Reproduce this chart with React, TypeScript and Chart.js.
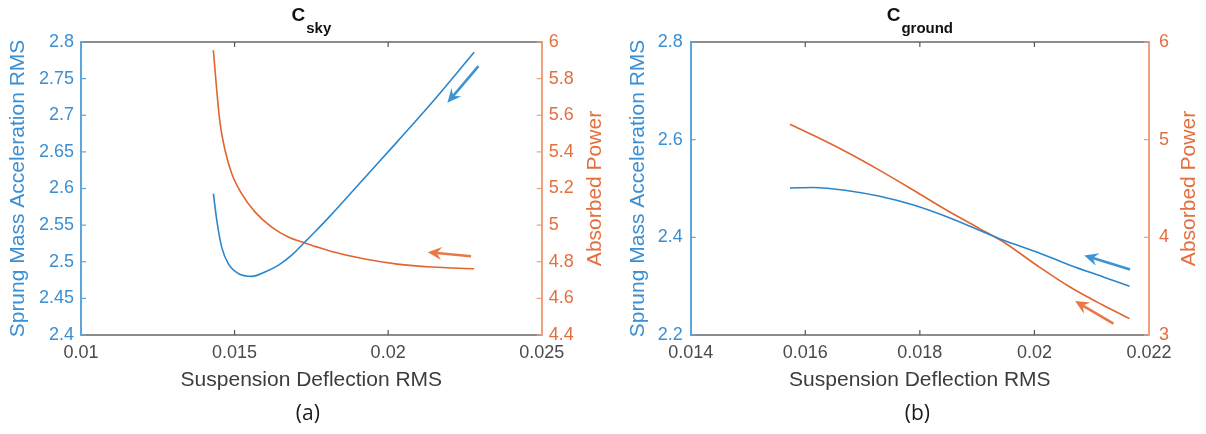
import React, { useEffect, useRef } from "react";
import { Chart, registerables } from "chart.js";

Chart.register(...registerables);

// ---------- Data: panel (a) C_sky ----------
const xAccelA = [0.01431, 0.01442, 0.01458, 0.0148, 0.01512, 0.01556, 0.01599, 0.01642, 0.01686, 0.01729, 0.01762, 0.0181, 0.0192, 0.0203, 0.0214, 0.0228];
const accelA = [2.593, 2.557, 2.52, 2.497, 2.484, 2.48, 2.486, 2.495, 2.509, 2.527, 2.541, 2.562, 2.613, 2.664, 2.716, 2.786];
const xPowerA = [0.01431, 0.01442, 0.01453, 0.01469, 0.01491, 0.01523, 0.01567, 0.01621, 0.01675, 0.01729, 0.01762, 0.0181, 0.0192, 0.0203, 0.0214, 0.0228];
const powerA = [5.955, 5.736, 5.554, 5.409, 5.281, 5.172, 5.071, 4.989, 4.935, 4.902, 4.884, 4.859, 4.816, 4.787, 4.771, 4.762];

// ---------- Data: panel (b) C_ground ----------
const xAccelB = [0.015733, 0.01614, 0.01672, 0.0173, 0.01789, 0.01847, 0.01905, 0.01946, 0.02004, 0.02062, 0.0212, 0.02166];
const accelB = [2.501, 2.502, 2.496, 2.484, 2.466, 2.442, 2.414, 2.394, 2.37, 2.343, 2.319, 2.3];
const xPowerB = [0.015733, 0.01614, 0.01672, 0.0173, 0.01789, 0.01847, 0.01905, 0.01946, 0.02004, 0.02062, 0.0212, 0.02166];
const powerB = [5.157, 5.045, 4.874, 4.686, 4.482, 4.277, 4.087, 3.952, 3.714, 3.491, 3.304, 3.168];

// ---------- Ticks ----------
const xTicksA = [0.01, 0.015, 0.02, 0.025];
const yLeftTicksA = [2.4, 2.45, 2.5, 2.55, 2.6, 2.65, 2.7, 2.75, 2.8];
const yRightTicksA = [4.4, 4.6, 4.8, 5, 5.2, 5.4, 5.6, 5.8, 6];
const xTicksB = [0.014, 0.016, 0.018, 0.02, 0.022];
const yLeftTicksB = [2.2, 2.4, 2.6, 2.8];
const yRightTicksB = [3, 4, 5, 6];

// ---------- Annotation arrows (data coords: x0, y0 -> x1, y1 tip) ----------
const arrowAccelA = [0.02294, 2.767, 0.02193, 2.717];
const arrowPowerA = [0.0227, 4.83, 0.02129, 4.852];
const arrowAccelB = [0.02167, 2.334, 0.02087, 2.363];
const arrowPowerB = [0.02138, 3.117, 0.02071, 3.348];

const BLUE = "#2a86cc";
const BLUE_TEXT = "#3b8fd2";
const BLUE_AXIS = "#5aa6dd";
const BLUE_ARROW = "#3d94d2";
const ORANGE = "#e0652f";
const ORANGE_TEXT = "#e46f3e";
const ORANGE_AXIS = "#efa07c";
const ORANGE_ARROW = "#e8784a";
const GRAY_AXIS = "#8c8c8c";
const GRAY_TEXT = "#4a4a4a";
const FONT = "'Liberation Sans', Arial, sans-serif";

type Spec = {
  left: number;
  width: number;
  xAccel: number[];
  accel: number[];
  xPower: number[];
  power: number[];
  xMin: number; xMax: number; xTicks: number[];
  yLMin: number; yLMax: number; yLTicks: number[];
  yRMin: number; yRMax: number; yRTicks: number[];
  leftW: number; rightW: number;
  leftTitlePad: number; leftTickPad: number; rightTickPad: number;
  rightTitleX: number;
  title: string; sub: string; caption: string; captionDx: number;
  arrows: { data: number[]; axis: "yL" | "yR"; color: string }[];
};

function drawArrow(ctx: CanvasRenderingContext2D, x0: number, y0: number, x1: number, y1: number, color: string) {
  const ang = Math.atan2(y1 - y0, x1 - x0);
  const c = Math.cos(ang), s = Math.sin(ang);
  const L = 14, W = 6.5, back = 9;
  ctx.strokeStyle = color;
  ctx.lineWidth = 2.6;
  ctx.lineCap = "butt";
  ctx.beginPath();
  ctx.moveTo(x0, y0);
  ctx.lineTo(x1 - back * c, y1 - back * s);
  ctx.stroke();
  ctx.fillStyle = color;
  ctx.beginPath();
  ctx.moveTo(x1, y1);
  ctx.lineTo(x1 - L * c + W * s, y1 - L * s - W * c);
  ctx.lineTo(x1 - back * c, y1 - back * s);
  ctx.lineTo(x1 - L * c - W * s, y1 - L * s + W * c);
  ctx.closePath();
  ctx.fill();
}

function makeDecor(spec: Spec) {
  return {
    id: "decor",
    afterDraw(chart: any) {
      const { ctx, chartArea } = chart;
      const { left, right, top, bottom } = chartArea;
      const x = chart.scales.x, yL = chart.scales.yL, yR = chart.scales.yR;
      ctx.save();
      // top box line
      ctx.strokeStyle = GRAY_AXIS;
      ctx.lineWidth = 2;
      ctx.beginPath();
      ctx.moveTo(left, top);
      ctx.lineTo(right, top);
      ctx.stroke();
      // inward tick marks
      ctx.lineWidth = 1.2;
      ctx.strokeStyle = "#555";
      spec.xTicks.forEach((v) => {
        const px = x.getPixelForValue(v);
        if (px <= left + 1 || px >= right - 1) return;
        ctx.beginPath();
        ctx.moveTo(px, bottom);
        ctx.lineTo(px, bottom - 5);
        ctx.moveTo(px, top);
        ctx.lineTo(px, top + 5);
        ctx.stroke();
      });
      ctx.strokeStyle = BLUE_AXIS;
      spec.yLTicks.forEach((v) => {
        const py = yL.getPixelForValue(v);
        ctx.beginPath();
        ctx.moveTo(left, py);
        ctx.lineTo(left + 5, py);
        ctx.stroke();
      });
      ctx.strokeStyle = ORANGE_AXIS;
      spec.yRTicks.forEach((v) => {
        const py = yR.getPixelForValue(v);
        ctx.beginPath();
        ctx.moveTo(right, py);
        ctx.lineTo(right - 5, py);
        ctx.stroke();
      });
      // right axis title (reads bottom-to-top)
      ctx.save();
      ctx.translate(spec.rightTitleX, (top + bottom) / 2);
      ctx.rotate(-Math.PI / 2);
      ctx.fillStyle = ORANGE_TEXT;
      ctx.font = `21px ${FONT}`;
      ctx.textAlign = "center";
      ctx.textBaseline = "middle";
      ctx.fillText("Absorbed Power", 0, 0);
      ctx.restore();
      // title with subscript
      const cx = (left + right) / 2;
      ctx.fillStyle = "#111";
      ctx.textAlign = "left";
      ctx.textBaseline = "alphabetic";
      ctx.font = `bold 19px ${FONT}`;
      const wMain = ctx.measureText(spec.title).width;
      ctx.font = `bold 15px ${FONT}`;
      const wSub = ctx.measureText(spec.sub).width;
      const start = cx - (wMain + 1 + wSub) / 2;
      ctx.font = `bold 19px ${FONT}`;
      ctx.fillText(spec.title, start, 21);
      ctx.font = `bold 15px ${FONT}`;
      ctx.fillText(spec.sub, start + wMain + 1, 33);
      // caption
      ctx.font = `21px 'Open Sans', sans-serif`;
      ctx.fillStyle = "#1a1a1a";
      ctx.textAlign = "center";
      ctx.textBaseline = "middle";
      ctx.fillText(spec.caption, cx + spec.captionDx, 414);
      // arrows
      spec.arrows.forEach((a) => {
        const ys = a.axis === "yL" ? yL : yR;
        drawArrow(
          ctx,
          x.getPixelForValue(a.data[0]),
          ys.getPixelForValue(a.data[1]),
          x.getPixelForValue(a.data[2]),
          ys.getPixelForValue(a.data[3]),
          a.color
        );
      });
      ctx.restore();
    },
  };
}

function makeConfig(spec: Spec): any {
  const tickFont = { family: FONT, size: 18 };
  return {
    type: "line",
    data: {
      datasets: [
        {
          label: "Sprung Mass Acceleration RMS",
          data: spec.xAccel.map((x, i) => ({ x, y: spec.accel[i] })),
          yAxisID: "yL",
          borderColor: BLUE,
          borderWidth: 1.6,
          pointRadius: 0,
          cubicInterpolationMode: "monotone",
          fill: false,
        },
        {
          label: "Absorbed Power",
          data: spec.xPower.map((x, i) => ({ x, y: spec.power[i] })),
          yAxisID: "yR",
          borderColor: ORANGE,
          borderWidth: 1.6,
          pointRadius: 0,
          cubicInterpolationMode: "monotone",
          fill: false,
        },
      ],
    },
    options: {
      animation: false,
      responsive: false,
      maintainAspectRatio: false,
      layout: { padding: { top: 42, bottom: 39, left: 0, right: 0 } },
      plugins: { legend: { display: false }, tooltip: { enabled: false }, title: { display: false } },
      scales: {
        x: {
          type: "linear",
          position: "bottom",
          min: spec.xMin,
          max: spec.xMax,
          afterBuildTicks: (s: any) => { s.ticks = spec.xTicks.map((v) => ({ value: v })); },
          afterFit: (s: any) => { s.height = 60; },
          ticks: { font: tickFont, color: GRAY_TEXT, padding: 7, maxRotation: 0, autoSkip: false, callback: (v: number) => String(v) },
          grid: { display: false, drawTicks: false },
          border: { display: true, color: GRAY_AXIS, width: 2 },
          title: { display: true, text: "Suspension Deflection RMS", color: "#3c3c3c", font: { family: FONT, size: 21 }, padding: { top: 0, bottom: 2.4 } },
        },
        yL: {
          type: "linear",
          position: "left",
          min: spec.yLMin,
          max: spec.yLMax,
          afterBuildTicks: (s: any) => { s.ticks = spec.yLTicks.map((v) => ({ value: v })); },
          afterFit: (s: any) => { s.width = spec.leftW; },
          ticks: { font: tickFont, color: BLUE_TEXT, padding: spec.leftTickPad, autoSkip: false, callback: (v: number) => String(v) },
          grid: { display: false, drawTicks: false },
          border: { display: true, color: BLUE_AXIS, width: 2 },
          title: { display: true, text: "Sprung Mass Acceleration RMS", color: BLUE_TEXT, font: { family: FONT, size: 21 }, padding: { top: spec.leftTitlePad, bottom: 0 } },
        },
        yR: {
          type: "linear",
          position: "right",
          min: spec.yRMin,
          max: spec.yRMax,
          afterBuildTicks: (s: any) => { s.ticks = spec.yRTicks.map((v) => ({ value: v })); },
          afterFit: (s: any) => { s.width = spec.rightW; },
          ticks: { font: tickFont, color: ORANGE_TEXT, padding: spec.rightTickPad, autoSkip: false, callback: (v: number) => String(v) },
          grid: { display: false, drawTicks: false },
          border: { display: true, color: ORANGE_AXIS, width: 2 },
          title: { display: false },
        },
      },
    },
    plugins: [makeDecor(spec)],
  };
}

const specA: Spec = {
  left: 0,
  width: 615,
  xAccel: xAccelA, accel: accelA, xPower: xPowerA, power: powerA,
  xMin: 0.01, xMax: 0.025, xTicks: xTicksA,
  yLMin: 2.4, yLMax: 2.8, yLTicks: yLeftTicksA,
  yRMin: 4.4, yRMax: 6, yRTicks: yRightTicksA,
  leftW: 81, rightW: 73.3,
  leftTitlePad: 5.7, leftTickPad: 7, rightTickPad: 7,
  rightTitleX: 595,
  title: "C", sub: "sky", caption: "(a)", captionDx: -3.5,
  arrows: [
    { data: arrowAccelA, axis: "yL", color: BLUE_ARROW },
    { data: arrowPowerA, axis: "yR", color: ORANGE_ARROW },
  ],
};

const specB: Spec = {
  left: 615,
  width: 591,
  xAccel: xAccelB, accel: accelB, xPower: xPowerB, power: powerB,
  xMin: 0.014, xMax: 0.022, xTicks: xTicksB,
  yLMin: 2.2, yLMax: 2.8, yLTicks: yLeftTicksB,
  yRMin: 3, yRMax: 6, yRTicks: yRightTicksB,
  leftW: 75.7, rightW: 57,
  leftTitlePad: 10.7, leftTickPad: 8, rightTickPad: 10,
  rightTitleX: 574.3,
  title: "C", sub: "ground", caption: "(b)", captionDx: -2.5,
  arrows: [
    { data: arrowAccelB, axis: "yL", color: BLUE_ARROW },
    { data: arrowPowerB, axis: "yR", color: ORANGE_ARROW },
  ],
};

function Panel({ spec }: { spec: Spec }) {
  const ref = useRef<HTMLCanvasElement | null>(null);
  useEffect(() => {
    if (!ref.current) return;
    const chart = new Chart(ref.current, makeConfig(spec));
    return () => chart.destroy();
  }, [spec]);
  return (
    <canvas
      ref={ref}
      width={spec.width}
      height={434}
      style={{ position: "absolute", left: spec.left, top: 0, width: spec.width, height: 434 }}
    />
  );
}

export default function App() {
  return (
    <div style={{ position: "fixed", left: 0, top: 0, width: 1206, height: 434, background: "#fff", overflow: "hidden" }}>
      <Panel spec={specA} />
      <Panel spec={specB} />
    </div>
  );
}
